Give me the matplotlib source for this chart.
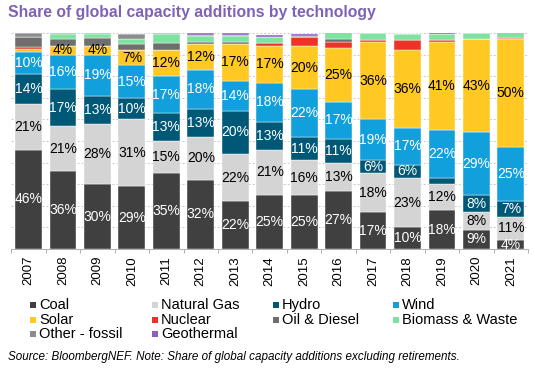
import matplotlib
matplotlib.use("Agg")
import matplotlib.pyplot as plt
from matplotlib.patches import Rectangle
import numpy as np

plt.rcParams['font.family'] = ['Liberation Sans', 'DejaVu Sans']

years = ["2007", "2008", "2009", "2010", "2011", "2012", "2013", "2014",
         "2015", "2016", "2017", "2018", "2019", "2020", "2021"]

coal        = [46, 36, 30, 29, 35, 32, 22, 25, 25, 27, 17, 10, 18, 9, 4]
natural_gas = [21, 21, 28, 31, 15, 20, 22, 21, 16, 13, 18, 23, 12, 8, 11]
hydro       = [14, 17, 13, 10, 13, 13, 20, 13, 11, 11, 6, 6, 3, 8, 7]
wind        = [10, 16, 19, 15, 17, 18, 14, 18, 22, 17, 19, 17, 22, 29, 25]
solar       = [1.5, 4, 4, 7, 12, 12, 17, 17, 20, 25, 36, 36, 41, 43, 50]
nuclear     = [1.0, 0.0, 0.0, 0.0, 0.0, 0.0, 0.0, 1.5, 4.2, 3.0, 0.6, 4.6, 0.9, 0.1, 0.8]
oil_diesel  = [4.5, 3.0, 3.5, 3.0, 3.5, 1.0, 1.0, 0.0, 0.0, 1.2, 0.0, 0.0, 0.0, 0.0, 0.0]
biomass     = [0.0, 2.6, 2.0, 2.3, 4.0, 2.8, 2.8, 2.5, 0.0, 3.4, 3.3, 3.0, 2.5, 3.0, 2.6]
other_fossil= [2.0, 0.3, 0.5, 2.0, 0.3, 0.2, 0.2, 0.0, 0.5, 0.0, 0.0, 0.0, 0.0, 0.0, 0.0]
geothermal  = [0.3, 0.2, 0.5, 0.3, 0.2, 0.8, 0.8, 1.0, 1.0, 0.2, 1.0, 0.1, 1.0, 0.4, 0.9]

series = [
    ("Coal", coal, "#404040", "white"),
    ("Natural Gas", natural_gas, "#d4d4d4", "black"),
    ("Hydro", hydro, "#005877", "white"),
    ("Wind", wind, "#12a0dc", "white"),
    ("Solar", solar, "#ffc822", "black"),
    ("Nuclear", nuclear, "#ec3328", None),
    ("Oil & Diesel", oil_diesel, "#6e6e6e", None),
    ("Biomass & Waste", biomass, "#7ee2a1", None),
    ("Other - fossil", other_fossil, "#8c8c8c", None),
    ("Geothermal", geothermal, "#8b5fc0", None),
]

W, H = 535, 377
fig = plt.figure(figsize=(W / 100, H / 100), dpi=100)
ax = fig.add_axes([0.0211, 0.3395, 0.966, 0.573])

x = np.arange(len(years))
bottom = np.zeros(len(years))
colors = {}
for name, vals, color, tcolor in series:
    vals = np.array(vals, dtype=float)
    ax.bar(x, vals, bottom=bottom, width=0.78, color=color, edgecolor="white",
           linewidth=0.3, zorder=3)
    colors[name] = color
    if tcolor is not None:
        for xi, v, b in zip(x, vals, bottom):
            if v >= 3.5:
                ax.text(xi, b + v / 2, f"{int(round(v))}%", ha="center", va="center",
                        fontsize=10, color=tcolor, zorder=4)
    bottom += vals

ax.set_xlim(-0.5, len(years) - 0.5)
ax.set_ylim(0, 100)
ax.set_yticks(np.arange(0, 101, 10))
ax.yaxis.grid(True, linestyle=(0, (2, 2)), color="#c8c8c8", linewidth=0.7, zorder=0)
ax.tick_params(axis="y", left=False, labelleft=False)
ax.set_xticks(x)
ax.set_xticklabels(years, rotation=90, fontsize=9.5)
ax.tick_params(axis="x", which="major", length=0, pad=5)
ax.set_xticks(np.arange(-0.5, len(years), 1), minor=True)
ax.tick_params(axis="x", which="minor", length=3, color="#b0b0b0", width=0.7)
for s in ["top", "right", "left"]:
    ax.spines[s].set_visible(False)
ax.spines["bottom"].set_color("#b0b0b0")
ax.spines["bottom"].set_linewidth(0.7)

# Legend drawn in a fixed grid (4 columns, row-major)
legend_order = ["Coal", "Natural Gas", "Hydro", "Wind",
                "Solar", "Nuclear", "Oil & Diesel", "Biomass & Waste",
                "Other - fossil", "Geothermal"]
col_x = [30, 152, 273, 393]
row_y = [305, 320, 334]
for i, name in enumerate(legend_order):
    cx = col_x[i % 4]
    cy = row_y[i // 4]
    fig.patches.append(Rectangle(((cx) / W, 1 - (cy + 3.2) / H), 6.4 / W, 6.4 / H,
                                 transform=fig.transFigure, facecolor=colors[name],
                                 edgecolor="none"))
    fig.text((cx + 9) / W, 1 - cy / H, name, fontsize=10.5, ha="left", va="center",
             color="black")

fig.text(0.015, 0.987, "Share of global capacity additions by technology",
         fontsize=11.3, fontweight="bold", color="#7f62b5", ha="left", va="top")
fig.text(0.015, 0.053, "Source: BloombergNEF. Note: Share of global capacity additions excluding retirements.",
         fontsize=8.4, style="italic", color="black", ha="left", va="center")

fig.savefig("out.png", dpi=100)
